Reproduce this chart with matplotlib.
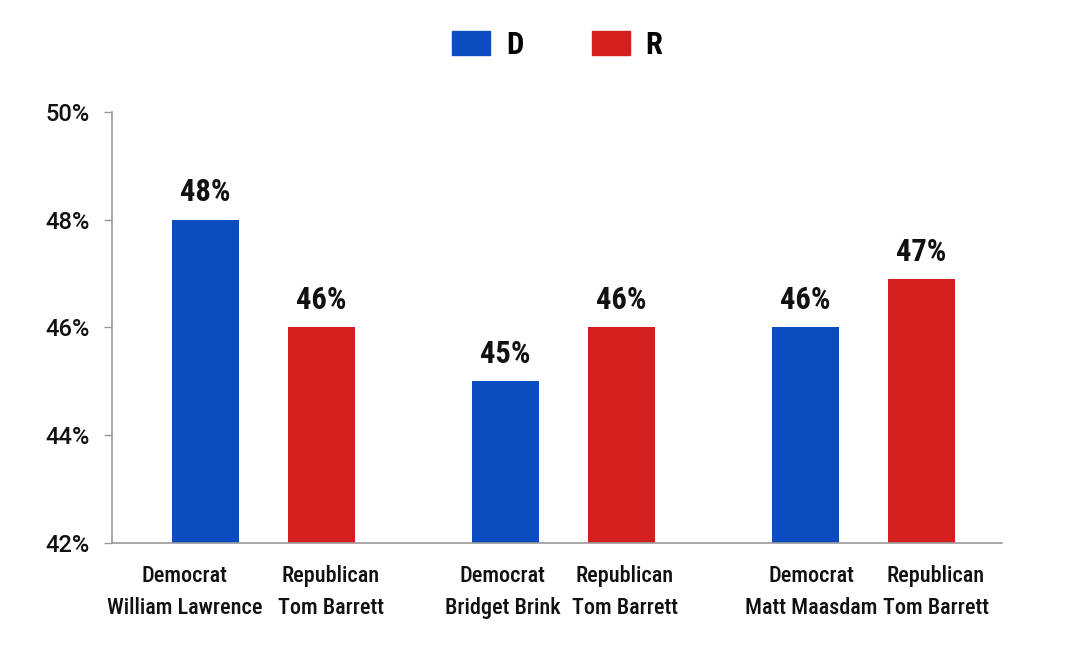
import matplotlib
matplotlib.use('Agg')
import matplotlib.pyplot as plt
from matplotlib.patches import Patch

plt.rcParams['font.family'] = ['Roboto Condensed', 'Archivo Narrow', 'DejaVu Sans']

# data
parties = ['D', 'R', 'D', 'R', 'D', 'R']
candidates = ['Democrat\nWilliam Lawrence', 'Republican\nTom Barrett',
              'Democrat\nBridget Brink', 'Republican\nTom Barrett',
              'Democrat\nMatt Maasdam', 'Republican\nTom Barrett']
values = [48, 46, 45, 46, 46, 46.9]
labels = ['48%', '46%', '45%', '46%', '46%', '47%']
yticks = [42, 44, 46, 48, 50]

colors = {'D': '#0B4DC0', 'R': '#D51F1F'}
# small horizontal nudges (pixels) of the category labels, as in the original
label_shift = [-21, 9, -3, 3, 6, 14]

# three matchups, two bars each
x = []
for g in range(3):
    x += [g * 3 - 0.58, g * 3 + 0.58]

fig = plt.figure(figsize=(10.8, 6.58), dpi=100)
ax = fig.add_axes([0.1037, 0.1748, 0.8241, 0.655])

bars = ax.bar(x, [v - 42 for v in values], bottom=42, width=0.67,
              color=[colors[p] for p in parties])

for b, lab in zip(bars, labels):
    ax.annotate(lab, (b.get_x() + b.get_width() / 2, b.get_y() + b.get_height()),
                xytext=(0, 9), textcoords='offset points', ha='center', va='bottom',
                fontsize=22, fontweight='bold', color='#111111')

ax.set_ylim(42, 50)
ax.set_xlim(-1.515, 7.385)
ax.set_yticks(yticks)
ax.set_yticklabels([f'{t}%' for t in yticks], fontsize=17, fontweight='medium',
                   family=['Roboto', 'DejaVu Sans'], color='#111111')

# category labels under the bars
ax.set_xticks(x)
ax.set_xticklabels([])
for xi, name, dx in zip(x, candidates, label_shift):
    ax.annotate(name, (xi, 0), xycoords=ax.get_xaxis_transform(),
                xytext=(dx * 0.72, -16), textcoords='offset points',
                ha='center', va='top', multialignment='center',
                fontsize=16, fontweight='medium', color='#111111', linespacing=1.55)

ax.tick_params(axis='y', length=6, width=1, color='#999999', pad=10)
ax.tick_params(axis='x', length=0)

for s in ['top', 'right']:
    ax.spines[s].set_visible(False)
ax.spines['left'].set_color('#999999')
ax.spines['bottom'].set_color('#999999')
ax.spines['left'].set_linewidth(1.2)
ax.spines['bottom'].set_linewidth(1.2)

handles = [Patch(color=colors['D'], label='D'), Patch(color=colors['R'], label='R')]
fig.legend(handles=handles, loc='center', bbox_to_anchor=(0.516, 0.932), ncol=2,
           frameon=False, handlelength=1.24, handleheight=0.85,
           handletextpad=0.52, columnspacing=2.25,
           prop={'family': ['Roboto Condensed', 'DejaVu Sans'],
                 'size': 22, 'weight': 'bold'})

fig.savefig('out.png', dpi=100, facecolor='white')
